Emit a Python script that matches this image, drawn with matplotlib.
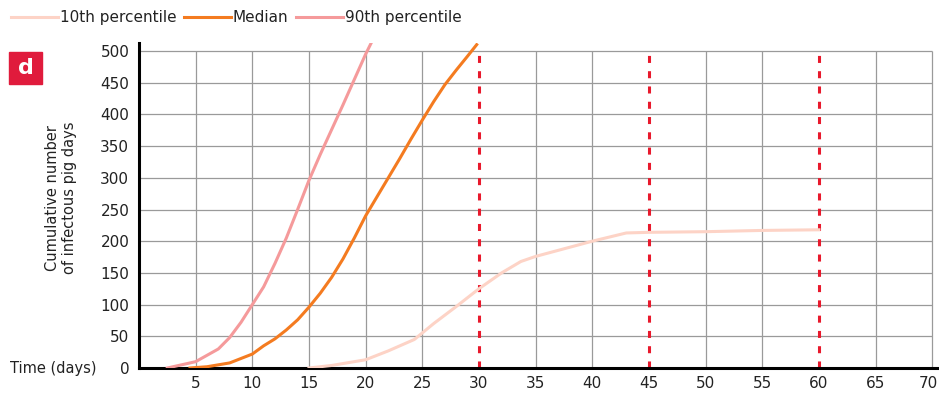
import matplotlib.pyplot as plt
from matplotlib.patches import Rectangle
from matplotlib.transforms import ScaledTranslation

# Кумулятивное число инфекционных свино-дней по дням
days_p10 = [15, 17, 18, 20, 22, 24.3, 26, 28, 30, 32, 33.7, 35, 37.5, 40, 43, 45, 50, 55, 60]
p10 = [0, 4, 7, 13, 27, 45, 70, 97, 125, 150, 168, 176, 188, 200, 213, 214, 215, 217, 218]

days_med = [4.5, 6, 8, 10, 11, 12, 13, 14, 15, 16, 17, 18, 19, 20, 21, 22, 23, 24, 25, 26, 27, 28, 29, 29.8]
median = [0, 2, 8, 22, 35, 46, 60, 76, 96, 118, 143, 172, 205, 240, 270, 300, 330, 361, 391, 420, 447, 470, 492, 510]

days_p90 = [2.5, 5, 7, 8, 9, 10, 11, 12, 13, 14, 15, 16, 17, 18, 19, 20, 20.5]
p90 = [0, 10, 30, 48, 72, 100, 128, 165, 205, 250, 296, 337, 376, 415, 455, 495, 513]

# Дни окончания периодов (красные пунктирные линии)
markers = [30, 45, 60]

x_ticks = list(range(5, 75, 5))
y_ticks = list(range(0, 550, 50))

plt.rcParams['font.family'] = ['DejaVu Sans']
text_color = '#222222'

fig = plt.figure(figsize=(9.39, 3.96), dpi=100)
ax = fig.add_axes([139 / 939, 28 / 396, 800 / 939, 324.6 / 396])
ax.set_xlim(0, 70.6)
ax.set_ylim(0, 512)

# Сетка: только внутри прямоугольника 0..70 x 0..500
grid_color = '#9a9a9a'
ax.hlines(y_ticks[1:], 0, 70, color=grid_color, lw=0.9, zorder=1)
ax.vlines([x for x in x_ticks if x not in markers], 0, 500, color=grid_color, lw=0.9, zorder=1)
ax.vlines(markers, 0, 500, color='#e8192c', lw=2.2, linestyles=(0, (2.3, 2.7)), zorder=2)

ax.plot(days_p10, p10, color='#fdd3c6', lw=2.2, label='10th percentile', zorder=3)
ax.plot(days_med, median, color='#f47b20', lw=2.2, label='Median', zorder=3)
ax.plot(days_p90, p90, color='#f59a9b', lw=2.2, label='90th percentile', zorder=3)

for side in ['top', 'right']:
    ax.spines[side].set_visible(False)
for side in ['left', 'bottom']:
    ax.spines[side].set_linewidth(2.2)
    ax.spines[side].set_color('black')

ax.set_xticks(x_ticks)
ax.set_yticks(y_ticks)
ax.tick_params(length=0, labelsize=11, labelcolor=text_color)
ax.tick_params(axis='x', pad=6)
ax.tick_params(axis='y', pad=7)

# последнюю подпись чуть сдвигаем влево, чтобы не обрезалась
last = ax.get_xticklabels()[-1]
last.set_transform(last.get_transform() + ScaledTranslation(-4 / 100, 0, fig.dpi_scale_trans))

fig.legend(loc='center left', bbox_to_anchor=(0.0, 0.955), ncol=3, frameon=False,
           fontsize=11, handlelength=3.1, handletextpad=0.1, columnspacing=0.5,
           borderpad=0.2, labelcolor=text_color)

fig.text(61 / 939, 1 - 198 / 396, 'Cumulative number\nof infectous pig days', rotation=90,
         ha='center', va='center', multialignment='center', fontsize=10.5, color=text_color)
fig.text(10 / 939, 1 - 369 / 396, 'Time (days)', ha='left', va='center', fontsize=10.5, color=text_color)

# Метка панели "d"
fig.patches.append(Rectangle((9 / 939, 1 - 84 / 396), 33 / 939, 32 / 396,
                             transform=fig.transFigure, color='#e01b3c', zorder=5))
fig.text(25.5 / 939, 1 - 68 / 396, 'd', ha='center', va='center', fontsize=16,
         fontweight='bold', color='white', zorder=6)

fig.savefig('out.png', dpi=100)
